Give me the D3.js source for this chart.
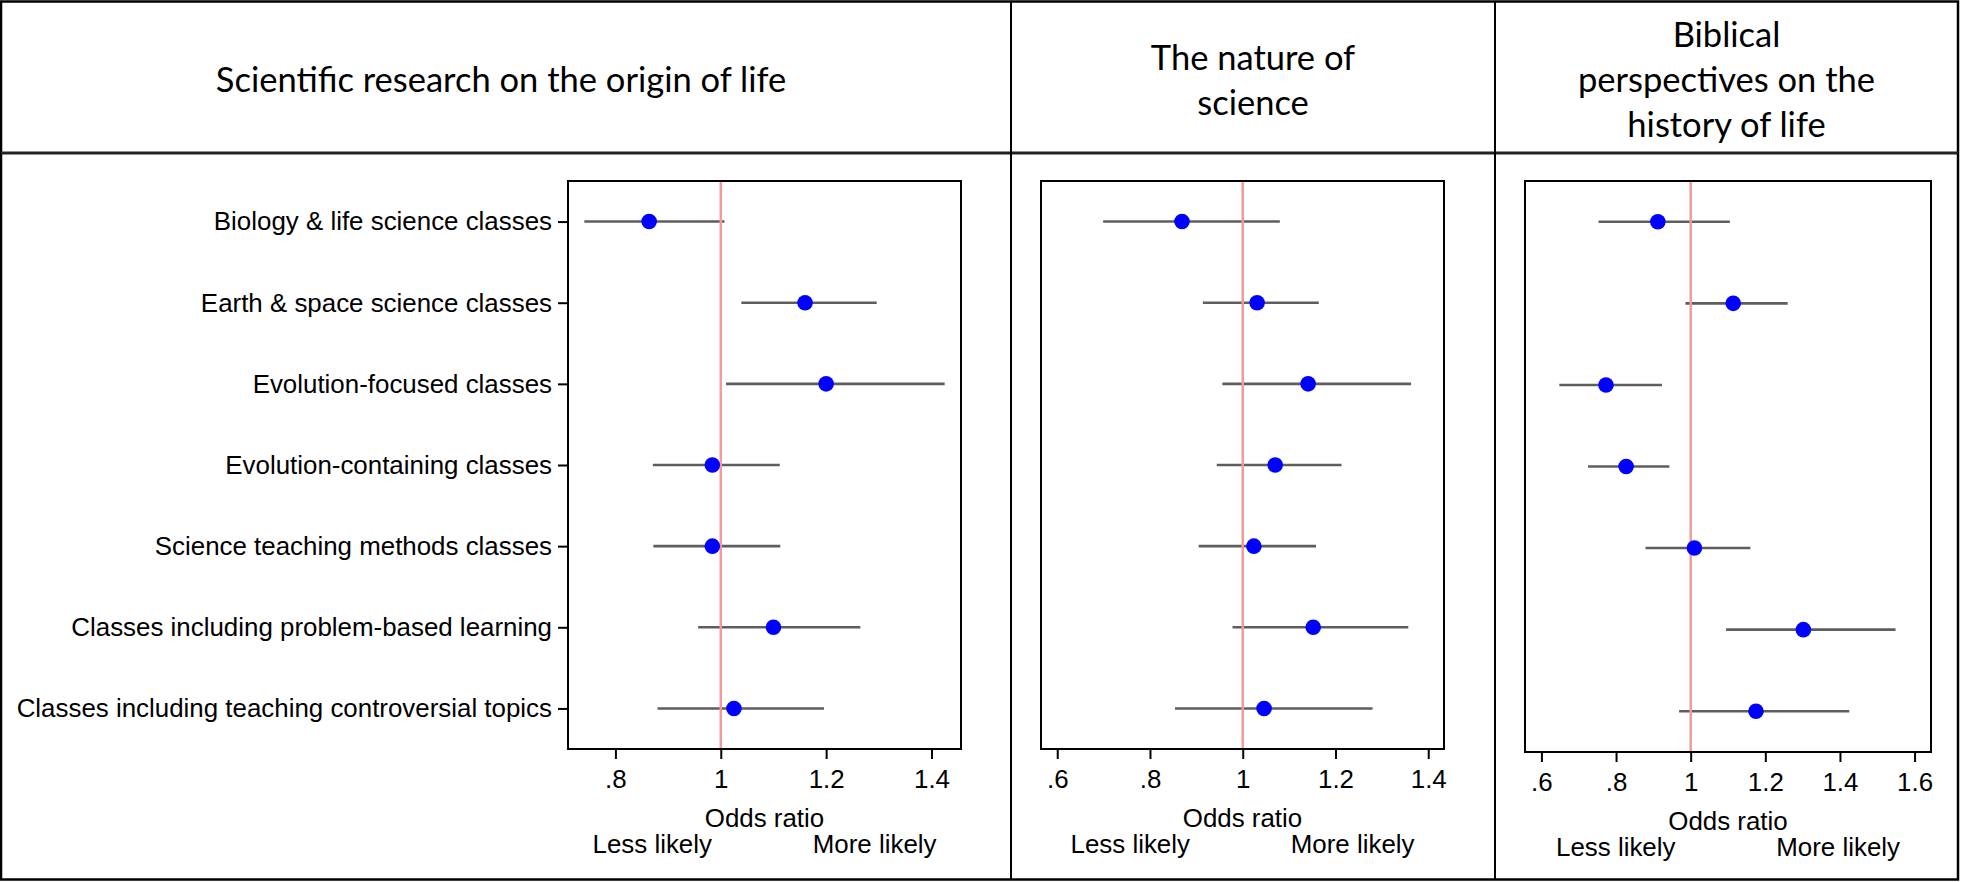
<!DOCTYPE html>
<html lang="en">
<head>
    <meta charset="UTF-8">
    <title>Odds ratios by class type</title>
    <style>
        body {
            margin: 0;
            background-color: #ffffff;
        }
        .title {
            font-family: Lato, "Open Sans", sans-serif;
            font-size: 34.5px;
            fill: #000;
        }
        .axis text, .axis-label {
            font-family: "Liberation Sans", Arial, sans-serif;
            font-size: 25.9px;
            fill: #000;
        }
    </style>
    <script src="https://d3js.org/d3.v7.min.js"></script>
</head>
<body>

<div id="chart"></div>

<script>
    // Row labels (same order in every panel, top to bottom)
    const categories = [
        "Biology & life science classes",
        "Earth & space science classes",
        "Evolution-focused classes",
        "Evolution-containing classes",
        "Science teaching methods classes",
        "Classes including problem-based learning",
        "Classes including teaching controversial topics"
    ];

    // Panel 1: Scientific research on the origin of life
    const originOR = [0.864, 1.160, 1.200, 0.984, 0.984, 1.100, 1.025];
    const originLo = [0.741, 1.039, 1.010, 0.871, 0.872, 0.957, 0.880];
    const originHi = [1.007, 1.296, 1.425, 1.112, 1.113, 1.265, 1.196];
    const originTicks = [0.8, 1, 1.2, 1.4];

    // Panel 2: The nature of science
    const natureOR = [0.869, 1.031, 1.141, 1.070, 1.024, 1.152, 1.046];
    const natureLo = [0.699, 0.914, 0.956, 0.944, 0.905, 0.978, 0.854];
    const natureHi = [1.080, 1.164, 1.363, 1.213, 1.158, 1.357, 1.280];
    const natureTicks = [0.6, 0.8, 1, 1.2, 1.4];

    // Panel 3: Biblical perspectives on the history of life
    const biblicalOR = [0.912, 1.114, 0.773, 0.827, 1.010, 1.302, 1.175];
    const biblicalLo = [0.753, 0.986, 0.648, 0.725, 0.879, 1.095, 0.969];
    const biblicalHi = [1.105, 1.260, 0.923, 0.943, 1.160, 1.549, 1.425];
    const biblicalTicks = [0.6, 0.8, 1, 1.2, 1.4, 1.6];

    const titles = [
        ["Scientific research on the origin of life"],
        ["The nature of", "science"],
        ["Biblical", "perspectives on the", "history of life"]
    ];

    const W = 1961, H = 882;
    const colEdges = [1, 1011, 1495, 1958];
    const headerBottom = 153;

    // plot frame of each panel and its x range
    const panels = [
        { or: originOR, lo: originLo, hi: originHi, ticks: originTicks,
          domain: [0.710, 1.456], left: 568, right: 961, top: 181, bottom: 749, yLabels: true },
        { or: natureOR, lo: natureLo, hi: natureHi, ticks: natureTicks,
          domain: [0.565, 1.434], left: 1041, right: 1444, top: 181, bottom: 749, yLabels: false },
        { or: biblicalOR, lo: biblicalLo, hi: biblicalHi, ticks: biblicalTicks,
          domain: [0.556, 1.644], left: 1525, right: 1931, top: 181, bottom: 752, yLabels: false }
    ];

    const svg = d3.select("#chart").append("svg")
        .attr("width", W)
        .attr("height", H);

    svg.append("rect")
        .attr("width", W).attr("height", H)
        .attr("fill", "#fff");

    // Header titles
    titles.forEach((lines, i) => {
        const cx = (colEdges[i] + colEdges[i + 1]) / 2;
        const n = lines.length;
        lines.forEach((t, j) => {
            svg.append("text")
                .attr("class", "title")
                .attr("x", i === 0 ? cx - 5 : cx)
                .attr("y", 92 + (j - (n - 1) / 2) * 45)
                .attr("text-anchor", "middle")
                .text(t);
        });
    });

    const fmt = d => String(d).replace(/^0\./, ".");

    panels.forEach(p => {
        const x = d3.scaleLinear().domain(p.domain).range([p.left, p.right]);
        const y = d3.scalePoint().domain(categories).range([p.top, p.bottom]).padding(0.5);

        const g = svg.append("g");

        // x axis
        const xa = g.append("g")
            .attr("class", "axis")
            .attr("transform", `translate(0,${p.bottom})`)
            .call(d3.axisBottom(x).tickValues(p.ticks).tickFormat(fmt).tickSize(10).tickPadding(11));
        xa.select(".domain").remove();
        xa.selectAll(".tick line").attr("stroke", "#000").attr("stroke-width", 2);

        // y axis (only first panel shows labels)
        if (p.yLabels) {
            const ya = g.append("g")
                .attr("class", "axis")
                .attr("transform", `translate(${p.left},0)`)
                .call(d3.axisLeft(y).tickSize(10).tickPadding(6));
            ya.select(".domain").remove();
            ya.selectAll(".tick line").attr("stroke", "#000").attr("stroke-width", 2);
        }

        const rows = categories.map((c, i) => ({ c: c, or: p.or[i], lo: p.lo[i], hi: p.hi[i] }));

        // confidence intervals
        g.selectAll(".ci")
            .data(rows)
            .enter().append("line")
            .attr("x1", d => x(d.lo))
            .attr("x2", d => x(d.hi))
            .attr("y1", d => y(d.c))
            .attr("y2", d => y(d.c))
            .attr("stroke", "#5e5e5e")
            .attr("stroke-width", 2.6);

        // reference line at OR = 1
        g.append("line")
            .attr("x1", x(1)).attr("x2", x(1))
            .attr("y1", p.top).attr("y2", p.bottom)
            .attr("stroke", "#f39a9a")
            .attr("stroke-width", 2.5);

        // point estimates
        g.selectAll(".dot")
            .data(rows)
            .enter().append("circle")
            .attr("cx", d => x(d.or))
            .attr("cy", d => y(d.c))
            .attr("r", 7.8)
            .attr("fill", "#0000ff");

        // plot frame
        g.append("rect")
            .attr("x", p.left).attr("y", p.top)
            .attr("width", p.right - p.left)
            .attr("height", p.bottom - p.top)
            .attr("fill", "none")
            .attr("stroke", "#000")
            .attr("stroke-width", 2);

        // axis titles
        const cx = (p.left + p.right) / 2;
        g.append("text")
            .attr("class", "axis-label")
            .attr("x", cx).attr("y", p.bottom + 78)
            .attr("text-anchor", "middle")
            .text("Odds ratio");
        g.append("text")
            .attr("class", "axis-label")
            .attr("x", cx - 172).attr("y", p.bottom + 104)
            .attr("text-anchor", "start")
            .text("Less likely");
        g.append("text")
            .attr("class", "axis-label")
            .attr("x", cx + 172).attr("y", p.bottom + 104)
            .attr("text-anchor", "end")
            .text("More likely");
    });

    // Table borders
    const border = svg.append("g").attr("stroke", "#000").attr("fill", "none");
    border.append("rect")
        .attr("x", 1).attr("y", 1.5)
        .attr("width", 1957).attr("height", 878)
        .attr("stroke-width", 2.5);
    border.append("line")
        .attr("x1", 1).attr("x2", 1958)
        .attr("y1", headerBottom).attr("y2", headerBottom)
        .attr("stroke", "#222")
        .attr("stroke-width", 3);
    [colEdges[1], colEdges[2]].forEach(cx => {
        border.append("line")
            .attr("x1", cx).attr("x2", cx)
            .attr("y1", 1).attr("y2", 880)
            .attr("stroke-width", 2);
    });
</script>

</body>
</html>
